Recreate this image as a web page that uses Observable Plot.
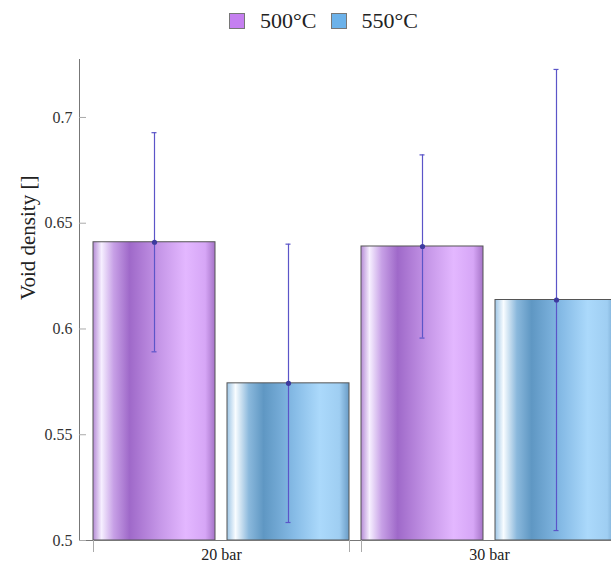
<!DOCTYPE html>
<html><head><meta charset="utf-8">
<script src="https://cdn.jsdelivr.net/npm/d3@7"></script>
<script src="https://cdn.jsdelivr.net/npm/@observablehq/plot@0.6"></script>
<style>
body{margin:0;width:611px;height:565px;overflow:hidden;background:#fff;font-family:'Liberation Serif','Times New Roman',serif;}
#legend{height:42px;display:flex;align-items:center;justify-content:center;padding-left:36px;box-sizing:border-box;font-size:22px;color:#222;}
.item{display:flex;align-items:center;margin:0 7px;}
.sw{width:14px;height:14px;border:1px solid #777;margin-right:15px;display:inline-block;}
#chart{width:640px;}
#chart svg{display:block;max-width:none !important;}
#chart svg text{font-family:'Liberation Serif','Times New Roman',serif !important;}
</style></head><body>
<div id="legend"></div>
<div id="chart"></div>
<script>
// ---- data ----
const pressures = ["20 bar", "30 bar"];
const temps = ["500°C", "550°C"];
const mean500 = [0.641, 0.639];
const err500 = [0.0518, 0.0433];
const mean550 = [0.5743, 0.6137];
const err550 = [0.0658, 0.109];
const yTicks = [0.5, 0.55, 0.6, 0.65, 0.7];
const yDomain = [0.5, 0.7274];
const legendColors = ["#c57ff0", "#6cb2ea"];
const yLabel = "Void density []";

// ---- table ----
const means = [mean500, mean550];
const errs = [err500, err550];
const rows = [];
pressures.forEach((p, i) => temps.forEach((t, j) => rows.push({
  pressure: p, temp: t, key: p + "|" + t, mean: means[j][i], err: errs[j][i]
})));
const keys = rows.map(d => d.key);

// ---- legend ----
const lg = document.getElementById("legend");
temps.forEach((t, j) => {
  const it = document.createElement("div"); it.className = "item";
  const sw = document.createElement("span"); sw.className = "sw"; sw.style.background = legendColors[j];
  const tx = document.createElement("span"); tx.textContent = t;
  it.appendChild(sw); it.appendChild(tx); lg.appendChild(it);
});

const FONT = "'Liberation Serif','Times New Roman',serif";
const layout = {width: 632, height: 523, marginLeft: 79, marginRight: 0, marginTop: 17, marginBottom: 25};
const xOpts = {type: "band", domain: keys, paddingInner: 0.089, paddingOuter: 0.096, axis: null};
const yOpts = {domain: yDomain, axis: null};

// probe pass to read band geometry from Plot's x scale
const probe = Plot.plot({...layout, x: xOpts, y: yOpts, marks: [Plot.barY(rows, {x: "key", y: "mean"})]});
const bw = probe.scale("x").bandwidth;
const step = probe.scale("x").step;

const errColor = "#5b55c8";
const capInset = (bw - 5) / 2;
const chart = Plot.plot({
  ...layout,
  x: xOpts,
  y: yOpts,
  style: {fontFamily: FONT, fontSize: "16px", background: "white", maxWidth: "none"},
  marks: [
    ...temps.map((t, j) => Plot.barY(rows.filter(d => d.temp === t), {
      x: "key", y1: yDomain[0], y2: "mean", fill: `url(#grad${j})`, stroke: "#555", strokeWidth: 1
    })),
    Plot.frame({anchor: "left", stroke: "#777"}),
    Plot.frame({anchor: "bottom", stroke: "#777"}),
    Plot.axisY({ticks: yTicks, tickSize: -7, tickPadding: 14, tickFormat: d => String(d),
      stroke: "#aaa", fill: "#333", fontSize: 16, fontFamily: FONT, label: null}),
    Plot.ruleX(rows.filter(d => d.temp === temps[0]), {x: "key", y1: yDomain[0], y2: yDomain[0], dx: -bw / 2, insetBottom: -12, stroke: "#aaa"}),
    Plot.ruleX(rows.filter(d => d.temp === temps[1]), {x: "key", y1: yDomain[0], y2: yDomain[0], dx: bw / 2, insetBottom: -12, stroke: "#aaa"}),
    Plot.text(rows.filter(d => d.temp === temps[0]), {x: "key", y: yDomain[0], text: "pressure", dx: step / 2, dy: 14, fontSize: 16, fontFamily: FONT, fill: "#222"}),
    Plot.text([yLabel], {frameAnchor: "left", rotate: -90, dx: -51, fontSize: 21, fontFamily: FONT, fill: "#222"}),
    Plot.ruleX(rows, {x: "key", y1: d => d.mean - d.err, y2: d => d.mean + d.err, stroke: errColor, strokeWidth: 1.2}),
    Plot.tickY(rows, {x: "key", y: d => d.mean - d.err, insetLeft: capInset, insetRight: capInset, stroke: errColor, strokeWidth: 1.2}),
    Plot.tickY(rows, {x: "key", y: d => d.mean + d.err, insetLeft: capInset, insetRight: capInset, stroke: errColor, strokeWidth: 1.2}),
    Plot.dot(rows, {x: "key", y: "mean", r: 2.6, fill: "#3d3a9e"})
  ]
});

// gradient definitions for the shaded bars
const gradStops = [
  [[0, "#b58bd6"], [0.07, "#f6efff"], [0.17, "#c7a0e6"], [0.3, "#9f69c9"], [0.55, "#c697e8"], [0.76, "#e3b7ff"], [0.92, "#d6a6f6"], [1, "#a674c8"]],
  [[0, "#9ec6e6"], [0.07, "#f8fcff"], [0.18, "#8ab8dc"], [0.3, "#5f97c3"], [0.55, "#86bbe6"], [0.76, "#abd9fb"], [0.92, "#9fcef2"], [1, "#6a9cc6"]]
];
const svg = d3.select(chart);
svg.style("max-width", "none");
const defs = svg.insert("defs", ":first-child");
gradStops.forEach((stops, j) => {
  const g = defs.append("linearGradient").attr("id", `grad${j}`).attr("x1", "0").attr("x2", "1").attr("y1", "0").attr("y2", "0");
  stops.forEach(([o, c]) => g.append("stop").attr("offset", o).attr("stop-color", c));
});
document.getElementById("chart").appendChild(chart);
</script>
</body></html>
